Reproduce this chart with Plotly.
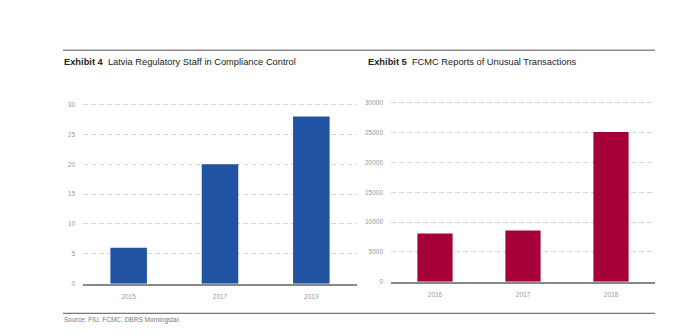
import plotly.graph_objects as go

left_years = ["2015", "2017", "2019"]
left_staff = [6, 20, 28]
left_ticks = [0, 5, 10, 15, 20, 25, 30]

right_years = ["2016", "2017", "2018"]
right_reports = [8100, 8600, 25100]
right_ticks = [0, 5000, 10000, 15000, 20000, 25000, 30000]

W, H = 700, 335
def px(x): return x / W
def py(y): return 1 - y / H

FONT = "Liberation Sans Narrow, Arial Narrow, Liberation Sans, sans-serif"
BLUE = "#2153A3"
RED = "#A6003A"

fig = go.Figure()
fig.add_trace(go.Bar(x=left_years, y=left_staff, marker_color=BLUE, marker_line_width=0,
                     xaxis="x", yaxis="y", showlegend=False))
fig.add_trace(go.Bar(x=right_years, y=right_reports, marker_color=RED, marker_line_width=0,
                     xaxis="x2", yaxis="y2", showlegend=False))

tickfont = dict(family=FONT, size=6.5, color="#9a9a9a")
common_x = dict(showgrid=False, showline=True, linecolor="#888888", linewidth=2,
                ticks="", tickfont=tickfont, fixedrange=True, ticklabelstandoff=5)
common_y = dict(showgrid=True, gridcolor="#d6d6d6", griddash="5px,3px", gridwidth=1,
                zeroline=False, showline=False, ticks="", tickfont=tickfont,
                ticklabelstandoff=7)

fig.update_layout(
    width=W, height=H, margin=dict(l=0, r=0, t=0, b=0),
    paper_bgcolor="white", plot_bgcolor="white",
    bargap=0.6,
    xaxis=dict(domain=[px(83), px(357)], anchor="y", **common_x),
    yaxis=dict(domain=[py(286), py(102.2)], range=[0, 30.3], tickvals=left_ticks,
               anchor="x", **common_y),
    xaxis2=dict(domain=[px(391), px(655)], anchor="y2", **common_x),
    yaxis2=dict(domain=[py(284), py(100.5)], range=[0, 30300], tickvals=right_ticks,
                tickformat="d", anchor="x2", **common_y),
    shapes=[
        dict(type="line", xref="paper", yref="paper", x0=px(63), x1=px(655),
             y0=py(49), y1=py(49), line=dict(color="#8a8a8a", width=1.5)),
        dict(type="line", xref="paper", yref="paper", x0=px(63), x1=px(655),
             y0=py(316), y1=py(316), line=dict(color="#555555", width=1)),
    ],
    annotations=[
        dict(text="<b>Exhibit 4</b>  Latvia Regulatory Staff in Compliance Control",
             xref="paper", yref="paper", x=px(62), y=py(61), xanchor="left", yanchor="middle",
             showarrow=False, font=dict(family=FONT, size=9.3, color="#222222")),
        dict(text="<b>Exhibit 5</b>  FCMC Reports of Unusual Transactions",
             xref="paper", yref="paper", x=px(366), y=py(61), xanchor="left", yanchor="middle",
             showarrow=False, font=dict(family=FONT, size=9.3, color="#222222")),
        dict(text="Source: FIU, FCMC, DBRS Morningstar.",
             xref="paper", yref="paper", x=px(62), y=py(322.5), xanchor="left", yanchor="middle",
             showarrow=False, font=dict(family=FONT, size=6.5, color="#777777")),
    ],
)

fig.write_html("out.html")
